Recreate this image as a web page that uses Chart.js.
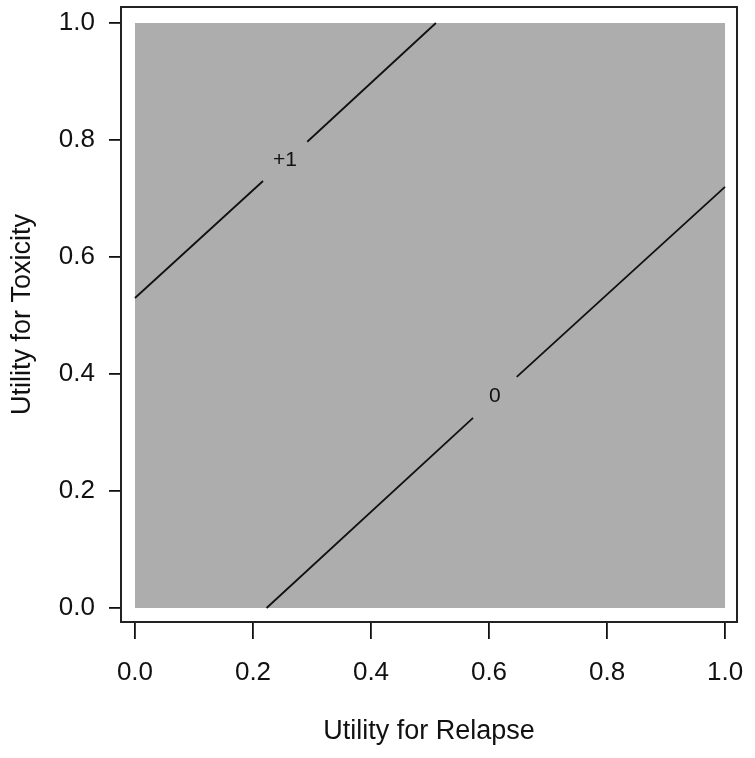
<!DOCTYPE html>
<html>
<head>
<meta charset="utf-8">
<script src="https://cdn.jsdelivr.net/npm/chart.js@4"></script>
<style>
  html, body { margin: 0; padding: 0; background: #fff; }
  #wrap { width: 755px; height: 758px; }
</style>
</head>
<body>
<div id="wrap"><canvas id="myCanvas" width="755" height="758"></canvas></div>
<script>
// tick labels
const relapseTicks = [0.0, 0.2, 0.4, 0.6, 0.8, 1.0];
const toxicityTicks = [0.0, 0.2, 0.4, 0.6, 0.8, 1.0];

// contour "+1" (null = gap for the label)
const plusOneX = [0.000, 0.217, null, 0.292, 0.510];
const plusOneY = [0.530, 0.730, null, 0.797, 1.000];

// contour "0"
const zeroX = [0.223, 0.573, null, 0.647, 1.000];
const zeroY = [0.000, 0.325, null, 0.395, 0.720];

// contour labels
const contourLabels = ['+1', '0'];
const labelX = [0.254, 0.610];
const labelY = [0.766, 0.362];

// shaded region
const regionX = [0, 1];
const regionY = [0, 1];

function punti(xs, ys) {
    var out = [];
    for (var i = 0; i < xs.length; i++) {
        out.push({ x: xs[i], y: ys[i] });
    }
    return out;
}

const fontFam = "'Liberation Sans', Arial, sans-serif";

// gray square + frame + contour labels
const sfondo = {
    id: 'sfondo',
    beforeDatasetsDraw(chart) {
        const ctx = chart.ctx;
        const sx = chart.scales.x, sy = chart.scales.y;
        const x0 = sx.getPixelForValue(regionX[0]), x1 = sx.getPixelForValue(regionX[1]);
        const y0 = sy.getPixelForValue(regionY[0]), y1 = sy.getPixelForValue(regionY[1]);
        ctx.save();
        ctx.fillStyle = '#adadad';
        ctx.fillRect(x0, y1, x1 - x0, y0 - y1);
        ctx.restore();
    },
    afterDraw(chart) {
        const ctx = chart.ctx;
        const a = chart.chartArea;
        const sx = chart.scales.x, sy = chart.scales.y;
        ctx.save();
        ctx.strokeStyle = '#222';
        ctx.lineWidth = 2;
        ctx.strokeRect(a.left, a.top, a.right - a.left, a.bottom - a.top);
        ctx.fillStyle = '#111';
        ctx.font = '21px ' + fontFam;
        ctx.textAlign = 'center';
        ctx.textBaseline = 'middle';
        for (var i = 0; i < contourLabels.length; i++) {
            ctx.fillText(contourLabels[i], sx.getPixelForValue(labelX[i]), sy.getPixelForValue(labelY[i]));
        }
        ctx.restore();
    }
};

let myCanvas = document.getElementById('myCanvas').getContext('2d');

let chart = new Chart(myCanvas, {
    type: 'scatter',
    data: {
        datasets: [{
            label: '+1',
            data: punti(plusOneX, plusOneY),
            showLine: true,
            spanGaps: false,
            borderColor: '#111',
            borderWidth: 1.8,
            pointRadius: 0
        }, {
            label: '0',
            data: punti(zeroX, zeroY),
            showLine: true,
            spanGaps: false,
            borderColor: '#111',
            borderWidth: 1.8,
            pointRadius: 0
        }]
    },
    options: {
        responsive: false,
        animation: false,
        layout: { padding: { top: 7, right: 18, left: 0, bottom: 0 } },
        plugins: {
            legend: { display: false },
            tooltip: { enabled: false }
        },
        scales: {
            x: {
                type: 'linear',
                min: -0.0237,
                max: 1.0203,
                afterBuildTicks: function (s) { s.ticks = relapseTicks.map(v => ({ value: v })); },
                afterFit: function (s) { s.height = 136; s.paddingLeft = 0; s.paddingRight = 0; },
                grid: { drawOnChartArea: false, drawTicks: true, tickLength: 17, color: '#111', lineWidth: 1.8 },
                border: { display: false },
                ticks: {
                    color: '#111',
                    font: { family: fontFam, size: 26 },
                    padding: 18,
                    maxRotation: 0,
                    callback: v => Number(v).toFixed(1)
                },
                title: {
                    display: true,
                    text: 'Utility for Relapse',
                    color: '#111',
                    font: { family: fontFam, size: 27 },
                    padding: { top: 0, bottom: 10 }
                }
            },
            y: {
                type: 'linear',
                min: -0.0239,
                max: 1.0274,
                afterBuildTicks: function (s) { s.ticks = toxicityTicks.map(v => ({ value: v })); },
                afterFit: function (s) { s.width = 121; s.paddingTop = 0; s.paddingBottom = 0; },
                grid: { drawOnChartArea: false, drawTicks: true, tickLength: 12, color: '#111', lineWidth: 1.8 },
                border: { display: false },
                ticks: {
                    color: '#111',
                    font: { family: fontFam, size: 26 },
                    padding: 14,
                    callback: v => Number(v).toFixed(1)
                },
                title: {
                    display: true,
                    text: 'Utility for Toxicity',
                    color: '#111',
                    font: { family: fontFam, size: 27 },
                    padding: { top: 6, bottom: 0 }
                }
            }
        }
    },
    plugins: [sfondo]
});
</script>
</body>
</html>
